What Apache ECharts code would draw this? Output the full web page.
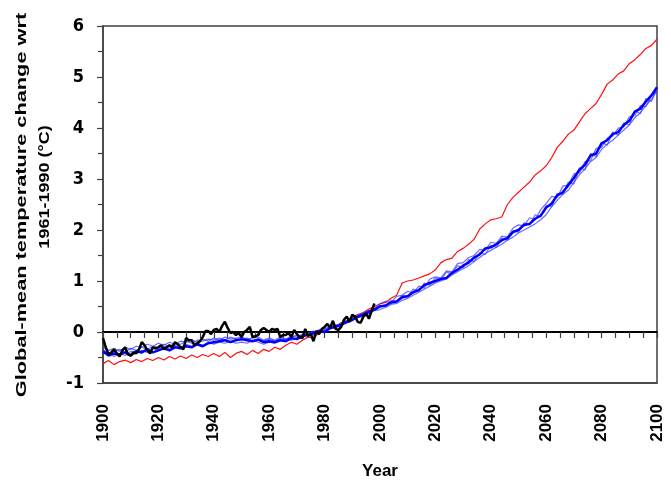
<!DOCTYPE html>
<html>
<head>
<meta charset="utf-8">
<script src="https://cdn.jsdelivr.net/npm/echarts@6/dist/echarts.min.js"></script>
<style>html,body{margin:0;padding:0;background:#fff}#c{width:671px;height:485px}</style>
</head>
<body>
<div id="c"></div>
<script>
// sampling years for the model runs (every 2 years, 1900-2100)
var modelYears = [];
for (var yr = 1900; yr <= 2100; yr += 2) modelYears.push(yr);
// observed years (annual, 1900-1998)
var obsYears = [];
for (var yo = 1900; yo <= 1998; yo += 1) obsYears.push(yo);

var redRun = [
 -0.62,-0.56,-0.64,-0.58,-0.55, -0.60,-0.54,-0.58,-0.52,-0.56,
 -0.50,-0.55,-0.48,-0.53,-0.47, -0.52,-0.45,-0.50,-0.44,-0.48,
 -0.42,-0.48,-0.40,-0.50,-0.42, -0.38,-0.44,-0.36,-0.42,-0.34,
 -0.38,-0.30,-0.34,-0.26,-0.20, -0.24,-0.16,-0.10,-0.12,-0.02,
 0.02,0.08,0.10,0.18,0.22, 0.30,0.34,0.38,0.45,0.50,
 0.55,0.58,0.66,0.72,0.96, 1.00,1.02,1.06,1.10,1.14,
 1.22,1.36,1.42,1.45,1.58, 1.64,1.72,1.82,2.02,2.12,
 2.20,2.22,2.26,2.50,2.64, 2.74,2.84,2.94,3.08,3.16,
 3.26,3.42,3.62,3.74,3.88, 3.96,4.12,4.28,4.38,4.48,
 4.66,4.86,4.94,5.06,5.12, 5.26,5.34,5.44,5.56,5.62,
 5.74];

var blueMean = [
 -0.38,-0.46,-0.42,-0.44,-0.40, -0.46,-0.38,-0.40,-0.34,-0.40,
 -0.36,-0.32,-0.36,-0.30,-0.32, -0.28,-0.30,-0.24,-0.28,-0.22,
 -0.20,-0.18,-0.16,-0.20,-0.16, -0.14,-0.16,-0.18,-0.15,-0.20,
 -0.18,-0.20,-0.16,-0.18,-0.12, -0.14,-0.08,-0.06,-0.02,0.02,
 0.00,0.08,0.10,0.14,0.20, 0.24,0.30,0.34,0.40,0.44,
 0.50,0.52,0.58,0.60,0.68, 0.70,0.78,0.82,0.92,0.96,
 1.00,1.04,1.06,1.16,1.22, 1.30,1.36,1.46,1.52,1.64,
 1.66,1.72,1.80,1.84,1.96, 2.00,2.10,2.12,2.22,2.28,
 2.44,2.52,2.68,2.74,2.88, 3.02,3.18,3.28,3.46,3.50,
 3.70,3.76,3.88,3.92,4.06, 4.14,4.32,4.38,4.52,4.64,
 4.80];

var blueRunA = [
 -0.30,-0.36,-0.32,-0.38,-0.30, -0.34,-0.28,-0.30,-0.24,-0.28,
 -0.22,-0.26,-0.20,-0.24,-0.18, -0.20,-0.16,-0.20,-0.14,-0.18,
 -0.12,-0.16,-0.10,-0.14,-0.12, -0.10,-0.14,-0.12,-0.10,-0.16,
 -0.12,-0.16,-0.10,-0.14,-0.08, -0.10,-0.04,-0.06,0.00,0.04,
 0.06,0.12,0.10,0.18,0.22, 0.28,0.32,0.38,0.42,0.46,
 0.56,0.60,0.58,0.70,0.72, 0.80,0.76,0.90,0.86,1.04,
 1.08,1.06,1.20,1.18,1.34, 1.36,1.46,1.50,1.62,1.60,
 1.76,1.74,1.88,1.86,2.04, 2.10,2.08,2.24,2.20,2.40,
 2.52,2.66,2.64,2.86,2.88, 3.10,3.12,3.34,3.36,3.60,
 3.62,3.80,3.84,4.00,4.02, 4.22,4.24,4.44,4.42,4.64,
 4.70];

var blueRunB = [
 -0.42,-0.40,-0.48,-0.42,-0.46, -0.38,-0.42,-0.36,-0.40,-0.32,
 -0.34,-0.28,-0.32,-0.26,-0.30, -0.24,-0.28,-0.22,-0.26,-0.20,
 -0.24,-0.20,-0.22,-0.18,-0.22, -0.20,-0.22,-0.16,-0.20,-0.24,
 -0.20,-0.22,-0.18,-0.14,-0.16, -0.12,-0.10,-0.04,-0.06,0.02,
 0.04,0.06,0.12,0.16,0.18, 0.22,0.28,0.30,0.36,0.42,
 0.44,0.48,0.54,0.56,0.62, 0.66,0.72,0.78,0.84,0.90,
 0.96,1.00,1.04,1.12,1.18, 1.24,1.30,1.38,1.46,1.54,
 1.60,1.66,1.72,1.80,1.86, 1.94,2.00,2.06,2.12,2.20,
 2.30,2.46,2.58,2.70,2.78, 2.94,3.08,3.20,3.34,3.42,
 3.58,3.68,3.76,3.86,3.96, 4.06,4.20,4.30,4.44,4.56,
 4.74];

var blueRunC = [
 -0.34,-0.44,-0.38,-0.34,-0.40, -0.32,-0.36,-0.30,-0.34,-0.28,
 -0.30,-0.24,-0.28,-0.22,-0.24, -0.18,-0.22,-0.16,-0.18,-0.14,
 -0.16,-0.12,-0.16,-0.10,-0.14, -0.16,-0.12,-0.18,-0.14,-0.18,
 -0.14,-0.18,-0.12,-0.16,-0.10, -0.06,-0.08,-0.02,0.02,0.00,
 0.04,0.10,0.14,0.16,0.22, 0.26,0.30,0.36,0.40,0.44,
 0.52,0.50,0.62,0.60,0.72, 0.70,0.84,0.80,0.96,0.92,
 1.06,1.02,1.18,1.14,1.30, 1.26,1.42,1.38,1.56,1.52,
 1.70,1.66,1.84,1.80,1.98, 1.96,2.14,2.10,2.30,2.26,
 2.48,2.46,2.72,2.70,2.94, 2.90,3.22,3.18,3.50,3.44,
 3.72,3.66,3.92,3.86,4.10, 4.06,4.34,4.28,4.58,4.52,
 4.78];

var observed = [
 -0.12,-0.30,-0.44,-0.40,-0.34,-0.42,-0.48,-0.36,-0.30,-0.44,
 -0.46,-0.40,-0.42,-0.34,-0.20,-0.26,-0.36,-0.42,-0.30,-0.32,
 -0.30,-0.26,-0.34,-0.30,-0.26,-0.30,-0.20,-0.24,-0.30,-0.34,
 -0.12,-0.16,-0.16,-0.26,-0.22,-0.18,-0.10,0.02,0.02,-0.04,
 0.04,0.06,0.00,0.12,0.20,0.08,-0.02,0.00,-0.06,-0.02,
 -0.10,0.00,0.04,0.10,-0.10,-0.08,-0.06,0.04,0.08,0.04,
 0.00,0.06,0.04,0.06,-0.10,-0.06,-0.06,-0.02,-0.10,0.04,
 -0.04,-0.10,-0.12,0.06,-0.08,-0.04,-0.18,0.02,-0.04,0.06,
 0.10,0.16,0.08,0.22,0.06,0.04,0.10,0.24,0.30,0.20,
 0.34,0.30,0.20,0.18,0.30,0.36,0.26,0.42,0.56];

var xTickLabels = ['1900','1920','1940','1960','1980','2000','2020','2040','2060','2080','2100'];
var yTitleLines = ['Global-mean temperature change wrt', '1961-1990 (\u00B0C)'];
var xTitle = 'Year';

function pairs(xs, ys) { return xs.map(function (x, i) { return [x, ys[i]]; }); }

var chart = echarts.init(document.getElementById('c'), null, {renderer: 'canvas'});
var lblFont = 'Liberation Sans';
var thinBlue = {color: '#3c3cff', width: 1.2, opacity: 0.75};
chart.setOption({
  animation: false,
  backgroundColor: '#fff',
  grid: {left: 103, right: 14, top: 26, bottom: 96, show: true, borderColor: '#404040', borderWidth: 1.5, backgroundColor: 'transparent'},
  xAxis: [
    {type: 'value', min: 1900, max: 2100, interval: 20, position: 'bottom',
     axisLine: {onZero: false, lineStyle: {color: '#404040', width: 1.5}},
     axisTick: {show: false}, splitLine: {show: false},
     axisLabel: {rotate: 90, margin: 21, color: '#000', fontFamily: lblFont, fontWeight: 'bold', fontSize: 17,
       formatter: function (v) { return xTickLabels[Math.round((v - 1900) / 20)]; }},
     name: xTitle, nameLocation: 'middle', nameGap: 80,
     nameTextStyle: {color: '#000', fontFamily: lblFont, fontWeight: 'bold', fontSize: 17}},
    {type: 'value', min: 1900, max: 2100, interval: 5, position: 'top',
     axisLine: {onZero: true, lineStyle: {color: '#000', width: 2}},
     axisTick: {show: true, inside: true, length: 6, lineStyle: {color: '#404040', width: 1.2}},
     axisLabel: {show: false}, splitLine: {show: false}}
  ],
  yAxis: {type: 'value', min: -1, max: 6, interval: 1,
    axisLine: {show: true, lineStyle: {color: '#404040', width: 1.5}},
    axisTick: {show: true, length: 6, lineStyle: {color: '#404040', width: 1.2}},
    minorTick: {show: true, splitNumber: 2, length: 5, lineStyle: {color: '#404040', width: 1.2}},
    splitLine: {show: false},
    axisLabel: {margin: 19, color: '#000', fontFamily: '"Liberation Sans Narrow", "DejaVu Sans Condensed", sans-serif', fontWeight: 'bold', fontSize: 18}},
  graphic: [
    {type: 'text', x: 22, y: 205, rotation: Math.PI / 2, scaleX: 1.45,
     style: {text: yTitleLines[0], font: 'bold 15px "Liberation Sans"', fill: '#000', textAlign: 'center', textVerticalAlign: 'middle'}},
    {type: 'text', x: 45, y: 187, rotation: Math.PI / 2, scaleX: 1.2,
     style: {text: yTitleLines[1], font: 'bold 15px "Liberation Sans"', fill: '#000', textAlign: 'center', textVerticalAlign: 'middle'}}
  ],
  series: [
    {type: 'line', name: 'red', data: pairs(modelYears, redRun), showSymbol: false, lineStyle: {color: '#ff1010', width: 1.2}, z: 2},
    {type: 'line', name: 'A', data: pairs(modelYears, blueRunA), showSymbol: false, lineStyle: thinBlue, z: 3},
    {type: 'line', name: 'B', data: pairs(modelYears, blueRunB), showSymbol: false, lineStyle: thinBlue, z: 3},
    {type: 'line', name: 'C', data: pairs(modelYears, blueRunC), showSymbol: false, lineStyle: thinBlue, z: 3},
    {type: 'line', name: 'mean', data: pairs(modelYears, blueMean), showSymbol: false, lineStyle: {color: '#0000ff', width: 2.5}, z: 4},
    {type: 'line', name: 'obs', data: pairs(obsYears, observed), showSymbol: false, lineStyle: {color: '#000', width: 2.5}, z: 5}
  ]
});
</script>
</body>
</html>
